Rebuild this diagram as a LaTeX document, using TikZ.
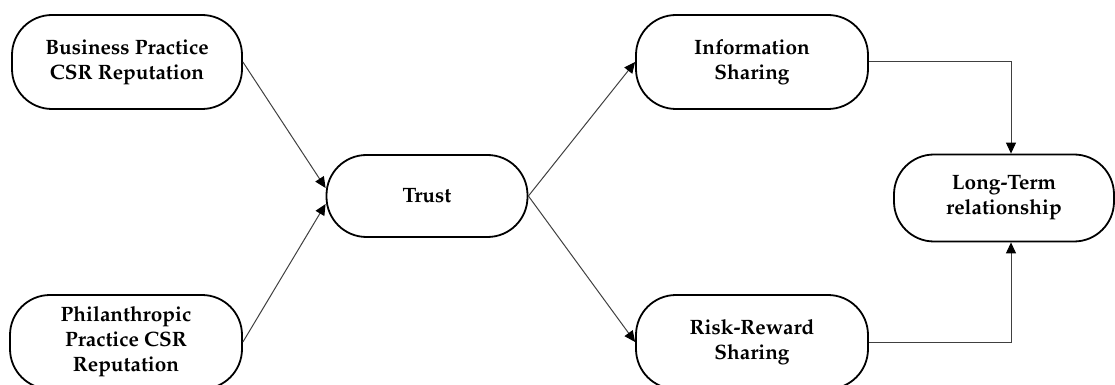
\documentclass[tikz,border=0pt]{standalone}
\usepackage[T1]{fontenc}
\usepackage{mathpazo}
\usepackage{tikz}
\usetikzlibrary{arrows.meta,positioning}

\begin{document}
\begin{tikzpicture}[x=0.5pt,y=-0.5pt,>={Triangle[length=5.5pt,width=5pt,color=black]},
  font=\bfseries\fontsize{10.4}{12.5}\selectfont,
  pill/.style={draw,line width=0.9pt,rounded corners=20pt,inner sep=0pt,
    minimum width=115pt,minimum height=47pt,align=center},
  link/.style={->,black!75,line width=0.5pt}]
  \useasboundingbox (0,0) rectangle (1115,385);
  % left column
  \node[pill] (bp) at (127,62) {Business Practice\\CSR Reputation};
  \node[pill,minimum width=116pt] (pp) at (126,342) {Philanthropic\\Practice CSR\\Reputation};
  % centre
  \node[pill,minimum width=100.5pt,minimum height=41pt] (trust) at (427,196) {Trust};
  % right column
  \node[pill,minimum width=116pt] (info) at (752,62) {Information\\Sharing};
  \node[pill,minimum width=116pt] (risk) at (752,342) {Risk-Reward\\Sharing};
  \node[pill,minimum width=110pt,minimum height=43.5pt] (lt) at (1004,198) {Long-Term\\relationship};
  % links
  \draw[link] (bp.east) -- ([yshift=4pt]trust.west);
  \draw[link] (pp.east) -- ([yshift=-4pt]trust.west);
  \draw[link] (trust.east) -- (info.west);
  \draw[link] (trust.east) -- (risk.west);
  \draw[link] (info.east) -| ([xshift=3.5pt]lt.north);
  \draw[link] (risk.east) -| ([xshift=3.5pt]lt.south);
\end{tikzpicture}
\end{document}
